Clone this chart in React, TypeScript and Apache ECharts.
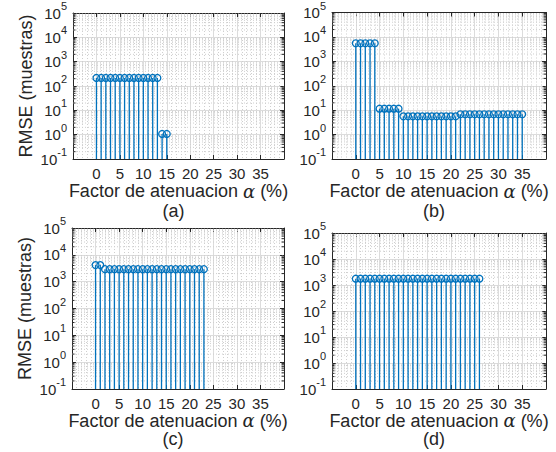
import React, { useEffect, useRef } from "react";
import * as echarts from "echarts";

// ---------- data ----------
const xA = [0, 1, 2, 3, 4, 5, 6, 7, 8, 9, 10, 11, 12, 13, 14, 15];
const yA = [215, 215, 215, 215, 215, 215, 215, 215, 215, 215, 215, 215, 215, 215, 1.07, 1.07];

const xB = [0, 1, 2, 3, 4, 5, 6, 7, 8, 9, 10, 11, 12, 13, 14, 15, 16, 17, 18, 19, 20, 21, 22, 23, 24, 25, 26, 27, 28, 29, 30, 31, 32, 33, 34, 35];
const yB = [5500, 5500, 5500, 5500, 5500, 11.5, 11.5, 11.5, 11.5, 11.5, 5.6, 5.6, 5.6, 5.6, 5.6, 5.6, 5.6, 5.6, 5.6, 5.6, 5.6, 5.6, 6.8, 6.8, 6.8, 6.8, 6.8, 6.8, 6.8, 6.8, 6.8, 6.8, 6.8, 6.8, 6.8, 6.8];

const xC = [0, 1, 2, 3, 4, 5, 6, 7, 8, 9, 10, 11, 12, 13, 14, 15, 16, 17, 18, 19, 20, 21, 22, 23];
const yC = [4150, 4150, 2930, 2930, 2930, 2930, 2930, 2930, 2930, 2930, 2930, 2930, 2930, 2930, 2930, 2930, 2930, 2930, 2930, 2930, 2930, 2930, 2930, 2930];

const xD = [0, 1, 2, 3, 4, 5, 6, 7, 8, 9, 10, 11, 12, 13, 14, 15, 16, 17, 18, 19, 20, 21, 22, 23, 24, 25, 26];
const yD = [1750, 1750, 1750, 1750, 1750, 1750, 1750, 1750, 1750, 1750, 1750, 1750, 1750, 1750, 1750, 1750, 1750, 1750, 1750, 1750, 1750, 1750, 1750, 1750, 1750, 1750, 1750];

const panelLabels = ["(a)", "(b)", "(c)", "(d)"];
const xLabelText = "Factor de atenuacion {al|α} (%)";
const yLabelText = "RMSE (muestras)";
const xTickMin = 0;
const xTickMax = 35;

const X_MIN = -5;
const X_MAX = 40;
const X_INT = 5;
const Y_MIN = 0.1;
const Y_MAX = 100000;

const panels = [
  { x: xA, y: yA },
  { x: xB, y: yB },
  { x: xC, y: yC },
  { x: xD, y: yD },
];

// ---------- styling / layout ----------
const BLUE = "#0072BD";
const AX = "#262626";
const FONT = "'Liberation Sans', Arial, Helvetica, sans-serif";
const grids = [
  { left: 73, top: 13, width: 211, height: 146 },
  { left: 332, top: 12, width: 214, height: 147 },
  { left: 72, top: 228, width: 212, height: 161 },
  { left: 332, top: 233, width: 214, height: 156 },
];
const showYName = [true, false, true, false];
const nameGaps = [24, 24, 19, 19];
const labelY = [211, 211, 439, 439];

// minor log grid values (2..9 per decade)
const minorY: number[] = [];
for (let d = -1; d < 5; d++) {
  for (let k = 2; k <= 9; k++) minorY.push(k * Math.pow(10, d));
}

export default function App() {
  const ref = useRef<HTMLDivElement>(null);
  useEffect(() => {
    if (!ref.current) return;
    const chart = echarts.init(ref.current, undefined, { renderer: "svg" });

    const xAxis: any[] = [];
    const yAxis: any[] = [];
    const series: any[] = [];
    const graphic: any[] = [];

    grids.forEach((g, i) => {
      xAxis.push({
        type: "value",
        gridIndex: i,
        position: "bottom",
        min: X_MIN,
        max: X_MAX,
        interval: X_INT,
        axisLine: { show: true, onZero: false, lineStyle: { color: AX, width: 1 } },
        axisTick: { show: true, inside: true, length: 4, lineStyle: { color: AX } },
        axisLabel: {
          show: true,
          margin: 7,
          fontSize: 15,
          color: AX,
          fontFamily: FONT,
          formatter: (v: number) => (v < xTickMin || v > xTickMax ? "" : String(v)),
        },
        splitLine: { show: true, lineStyle: { color: "#dcdcdc", width: 1 } },
        minorTick: { show: false, splitNumber: 5 },
        minorSplitLine: { show: true, lineStyle: { color: "#cfcfcf", width: 1, type: [1, 2] } },
        name: xLabelText,
        nameLocation: "middle",
        nameGap: nameGaps[i],
        nameTextStyle: {
          fontSize: 18,
          lineHeight: 16,
          color: AX,
          fontFamily: FONT,
          rich: {
            al: { fontSize: 18, lineHeight: 16, fontStyle: "italic", fontFamily: "'DejaVu Serif', 'Liberation Serif', serif", color: AX },
          },
        },
      });
      xAxis.push({
        type: "value",
        gridIndex: i,
        position: "top",
        min: X_MIN,
        max: X_MAX,
        interval: X_INT,
        axisLine: { show: true, onZero: false, lineStyle: { color: AX, width: 1 } },
        axisTick: { show: true, inside: true, length: 4, lineStyle: { color: AX } },
        axisLabel: { show: false },
        splitLine: { show: false },
      });
      yAxis.push({
        type: "log",
        logBase: 10,
        gridIndex: i,
        position: "left",
        min: Y_MIN,
        max: Y_MAX,
        axisLine: { show: true, onZero: false, lineStyle: { color: AX, width: 1 } },
        axisTick: { show: true, inside: true, length: 4, lineStyle: { color: AX } },
        axisLabel: {
          show: true,
          margin: 6,
          color: AX,
          fontFamily: FONT,
          formatter: (v: number) => {
            const e = Math.round(Math.log10(v));
            return "{b|10}{s|" + e + "}";
          },
          rich: {
            b: { fontSize: 15, lineHeight: 16, fontFamily: FONT, color: AX },
            s: { fontSize: 11, height: 2, lineHeight: 2, verticalAlign: "top", fontFamily: FONT, color: AX },
          },
        },
        splitLine: { show: true, lineStyle: { color: "#dcdcdc", width: 1 } },
        name: showYName[i] ? yLabelText : "",
        nameLocation: "middle",
        nameGap: 38,
        nameTextStyle: { fontSize: 18, color: AX, fontFamily: FONT },
      });
      yAxis.push({
        type: "log",
        logBase: 10,
        gridIndex: i,
        position: "right",
        min: Y_MIN,
        max: Y_MAX,
        axisLine: { show: true, onZero: false, lineStyle: { color: AX, width: 1 } },
        axisTick: { show: true, inside: true, length: 4, lineStyle: { color: AX } },
        axisLabel: { show: false },
        splitLine: { show: false },
      });

      // minor log grid + minor ticks
      series.push({
        type: "custom",
        xAxisIndex: 2 * i,
        yAxisIndex: 2 * i,
        silent: true,
        z: 1,
        data: minorY.map((v) => [X_MIN, v]),
        renderItem: (params: any, api: any) => {
          const v = api.value(1);
          const l = api.coord([X_MIN, v]);
          const r = api.coord([X_MAX, v]);
          return {
            type: "group",
            children: [
              { type: "line", shape: { x1: l[0], y1: l[1], x2: r[0], y2: r[1] }, style: { stroke: "#cfcfcf", lineWidth: 1, lineDash: [1, 2] } },
              { type: "line", shape: { x1: l[0], y1: l[1], x2: l[0] + 2.5, y2: l[1] }, style: { stroke: AX, lineWidth: 1 } },
              { type: "line", shape: { x1: r[0] - 2.5, y1: r[1], x2: r[0], y2: r[1] }, style: { stroke: AX, lineWidth: 1 } },
            ],
          };
        },
      });

      // stems
      const p = panels[i];
      series.push({
        type: "custom",
        xAxisIndex: 2 * i,
        yAxisIndex: 2 * i,
        z: 3,
        data: p.x.map((x, k) => [x, p.y[k]]),
        renderItem: (params: any, api: any) => {
          const x = api.value(0);
          const y = api.value(1);
          const top = api.coord([x, y]);
          const base = api.coord([x, Y_MIN]);
          return {
            type: "group",
            children: [
              { type: "line", shape: { x1: top[0], y1: base[1], x2: top[0], y2: top[1] }, style: { stroke: BLUE, lineWidth: 1.3 } },
              { type: "circle", shape: { cx: top[0], cy: top[1], r: 3.4 }, style: { fill: "none", stroke: BLUE, lineWidth: 1.3 } },
            ],
          };
        },
      });

      graphic.push({
        type: "text",
        x: g.left + g.width / 2 - 5,
        y: labelY[i],
        style: {
          text: panelLabels[i],
          fontSize: 18,
          lineHeight: 16,
          fontFamily: FONT,
          fill: AX,
          align: "center",
          verticalAlign: "middle",
        },
      });
    });

    chart.setOption({
      animation: false,
      backgroundColor: "#ffffff",
      grid: grids.map((g) => ({ ...g, containLabel: false })),
      xAxis,
      yAxis,
      series,
      graphic,
    });
    return () => chart.dispose();
  }, []);

  return (
    <div
      ref={ref}
      style={{ position: "fixed", left: 0, top: 0, width: 556, height: 452, background: "#fff" }}
    />
  );
}
